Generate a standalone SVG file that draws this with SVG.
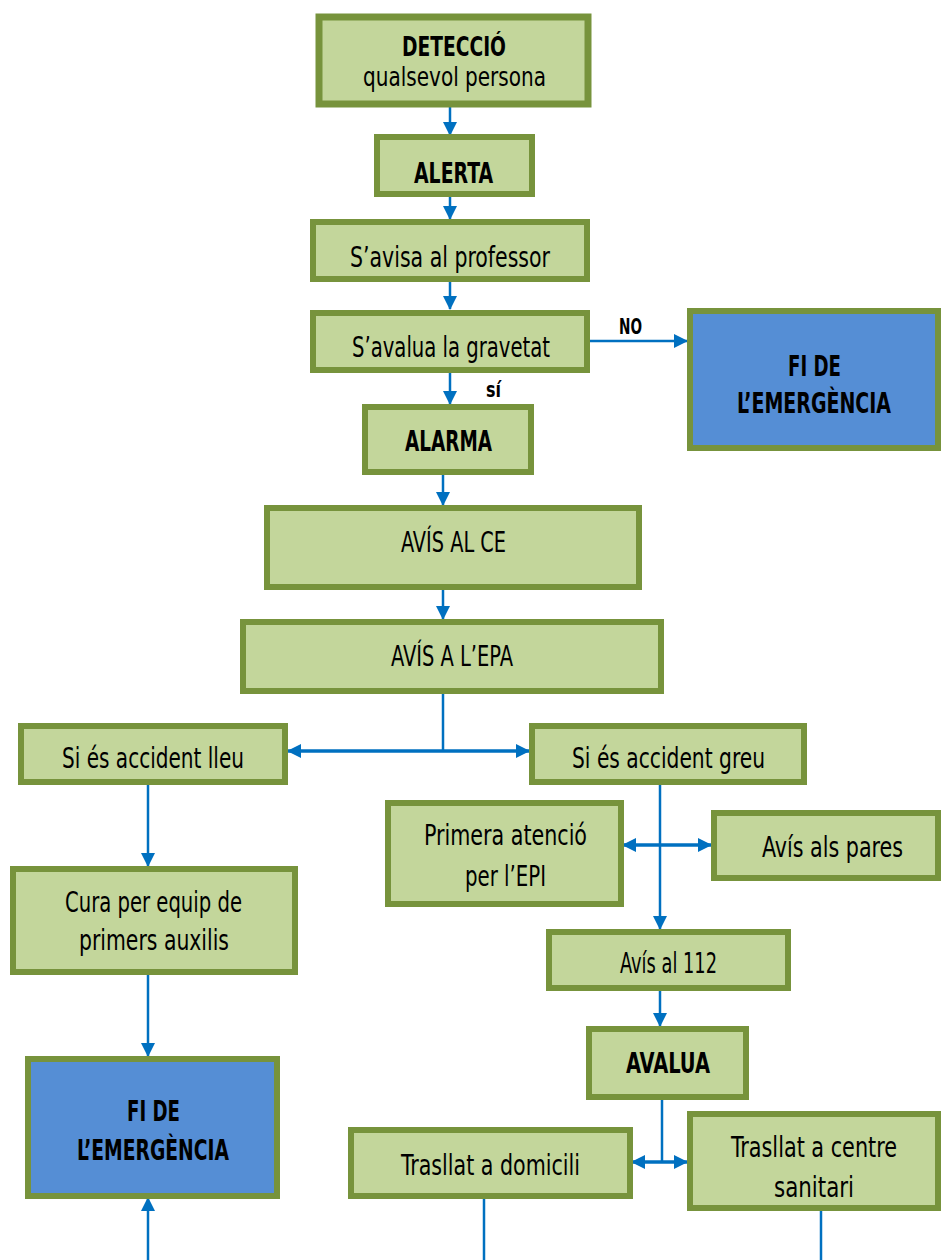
<svg xmlns="http://www.w3.org/2000/svg" width="941" height="1260" viewBox="0 0 941 1260">
<defs>
<marker id="ah" markerUnits="userSpaceOnUse" markerWidth="14" markerHeight="14" refX="13" refY="7" orient="auto-start-reverse" viewBox="0 0 14 14">
<path d="M0,0 L14,7 L0,14 Z" fill="#0070C0"/>
</marker>
<style>
.box{fill:#C3D69B;stroke:#77933C;stroke-width:6}
.blue{fill:#558ED5;stroke:#77933C;stroke-width:6}
.c{fill:none;stroke:#0070C0;stroke-width:2.5}
.c3{fill:none;stroke:#0070C0;stroke-width:3.5}
text{font-family:"Liberation Sans Narrow","DejaVu Sans Condensed","Liberation Sans",sans-serif;font-size:29px;fill:#000;text-anchor:start}
.b{font-weight:bold}
.s{font-size:22px}
.m{font-size:26px}
</style>
</defs>
<g id="connectors">
<line class="c" x1="450" y1="107" x2="450" y2="135" marker-end="url(#ah)"/>
<line class="c" x1="450" y1="186" x2="450" y2="219" marker-end="url(#ah)"/>
<line class="c" x1="450" y1="282" x2="450" y2="309" marker-end="url(#ah)"/>
<line class="c" x1="450" y1="372" x2="450" y2="404" marker-end="url(#ah)"/>
<line class="c" x1="590" y1="341" x2="687" y2="341" marker-end="url(#ah)"/>
<line class="c" x1="443" y1="474" x2="443" y2="505" marker-end="url(#ah)"/>
<line class="c" x1="443" y1="590" x2="443" y2="619" marker-end="url(#ah)"/>
<line class="c" x1="443" y1="693" x2="443" y2="751"/>
<line class="c3" x1="288" y1="751" x2="529" y2="751" marker-start="url(#ah)" marker-end="url(#ah)"/>
<line class="c" x1="148" y1="784" x2="148" y2="866" marker-end="url(#ah)"/>
<line class="c" x1="148" y1="974" x2="148" y2="1056" marker-end="url(#ah)"/>
<line class="c" x1="148" y1="1260" x2="148" y2="1198" marker-end="url(#ah)"/>
<line class="c" x1="660" y1="785" x2="660" y2="929" marker-end="url(#ah)"/>
<line class="c3" x1="623" y1="845" x2="711" y2="845" marker-start="url(#ah)" marker-end="url(#ah)"/>
<line class="c" x1="660" y1="990" x2="660" y2="1026" marker-end="url(#ah)"/>
<line class="c" x1="662" y1="1099" x2="662" y2="1162"/>
<line class="c3" x1="632" y1="1162" x2="687" y2="1162" marker-start="url(#ah)" marker-end="url(#ah)"/>
<line class="c" x1="484" y1="1198" x2="484" y2="1260"/>
<line class="c" x1="821" y1="1210" x2="821" y2="1260"/>
<text class="b s" x="619" y="334" textLength="23" lengthAdjust="spacingAndGlyphs">NO</text>
<text class="b s" x="486" y="397" textLength="15" lengthAdjust="spacingAndGlyphs">sí</text>
</g>
<g id="deteccio">
<rect class="box" x="319" y="17" width="269" height="87" style="stroke-width:7"/>
<text class="b m" x="402" y="56" textLength="104" lengthAdjust="spacingAndGlyphs">DETECCIÓ</text>
<text class="m" x="363" y="86" textLength="183" lengthAdjust="spacingAndGlyphs">qualsevol persona</text>
</g>
<g id="alerta">
<rect class="box" x="377" y="137" width="155" height="57"/>
<text class="b" x="414" y="183" textLength="79" lengthAdjust="spacingAndGlyphs">ALERTA</text>
</g>
<g id="avisa">
<rect class="box" x="313" y="222" width="274" height="57"/>
<text x="350" y="267" textLength="200" lengthAdjust="spacingAndGlyphs">S’avisa al professor</text>
</g>
<g id="avalua-gravetat">
<rect class="box" x="313" y="313" width="274" height="57"/>
<text x="352" y="357" textLength="198" lengthAdjust="spacingAndGlyphs">S’avalua la gravetat</text>
</g>
<g id="fi1">
<rect class="blue" x="690" y="311" width="248" height="137"/>
<text class="b" x="788" y="376" textLength="53" lengthAdjust="spacingAndGlyphs">FI DE</text>
<text class="b" x="737" y="413" textLength="154" lengthAdjust="spacingAndGlyphs">L’EMERGÈNCIA</text>
</g>
<g id="alarma">
<rect class="box" x="365" y="407" width="166" height="65"/>
<text class="b" x="405" y="451" textLength="87" lengthAdjust="spacingAndGlyphs">ALARMA</text>
</g>
<g id="avis-ce">
<rect class="box" x="267" y="508" width="372" height="79"/>
<text x="401" y="552" textLength="105" lengthAdjust="spacingAndGlyphs">AVÍS AL CE</text>
</g>
<g id="avis-epa">
<rect class="box" x="243" y="622" width="418" height="69"/>
<text x="391" y="666" textLength="122" lengthAdjust="spacingAndGlyphs">AVÍS A L’EPA</text>
</g>
<g id="lleu">
<rect class="box" x="21" y="726" width="264" height="56"/>
<text x="62" y="768" textLength="182" lengthAdjust="spacingAndGlyphs">Si és accident lleu</text>
</g>
<g id="greu">
<rect class="box" x="532" y="726" width="272" height="56"/>
<text x="572" y="768" textLength="193" lengthAdjust="spacingAndGlyphs">Si és accident greu</text>
</g>
<g id="primera">
<rect class="box" x="388" y="803" width="233" height="101"/>
<text x="424" y="845" textLength="163" lengthAdjust="spacingAndGlyphs">Primera atenció</text>
<text x="465" y="886" textLength="81" lengthAdjust="spacingAndGlyphs">per l’EPI</text>
</g>
<g id="pares">
<rect class="box" x="714" y="813" width="224" height="65"/>
<text x="762" y="857" textLength="141" lengthAdjust="spacingAndGlyphs">Avís als pares</text>
</g>
<g id="cura">
<rect class="box" x="13" y="869" width="282" height="103"/>
<text x="65" y="912" textLength="177" lengthAdjust="spacingAndGlyphs">Cura per equip de</text>
<text x="79" y="950" textLength="150" lengthAdjust="spacingAndGlyphs">primers auxilis</text>
</g>
<g id="avis112">
<rect class="box" x="549" y="932" width="239" height="56"/>
<text x="620" y="973" textLength="97" lengthAdjust="spacingAndGlyphs">Avís al 112</text>
</g>
<g id="avalua">
<rect class="box" x="589" y="1029" width="157" height="68"/>
<text class="b" x="626" y="1073" textLength="84" lengthAdjust="spacingAndGlyphs">AVALUA</text>
</g>
<g id="fi2">
<rect class="blue" x="28" y="1059" width="249" height="137"/>
<text class="b" x="127" y="1121" textLength="53" lengthAdjust="spacingAndGlyphs">FI DE</text>
<text class="b" x="77" y="1160" textLength="152" lengthAdjust="spacingAndGlyphs">L’EMERGÈNCIA</text>
</g>
<g id="domicili">
<rect class="box" x="351" y="1130" width="279" height="66"/>
<text x="401" y="1175" textLength="179" lengthAdjust="spacingAndGlyphs">Trasllat a domicili</text>
</g>
<g id="centre">
<rect class="box" x="690" y="1114" width="248" height="94"/>
<text x="731" y="1157" textLength="166" lengthAdjust="spacingAndGlyphs">Trasllat a centre</text>
<text x="774" y="1197" textLength="80" lengthAdjust="spacingAndGlyphs">sanitari</text>
</g>
</svg>
